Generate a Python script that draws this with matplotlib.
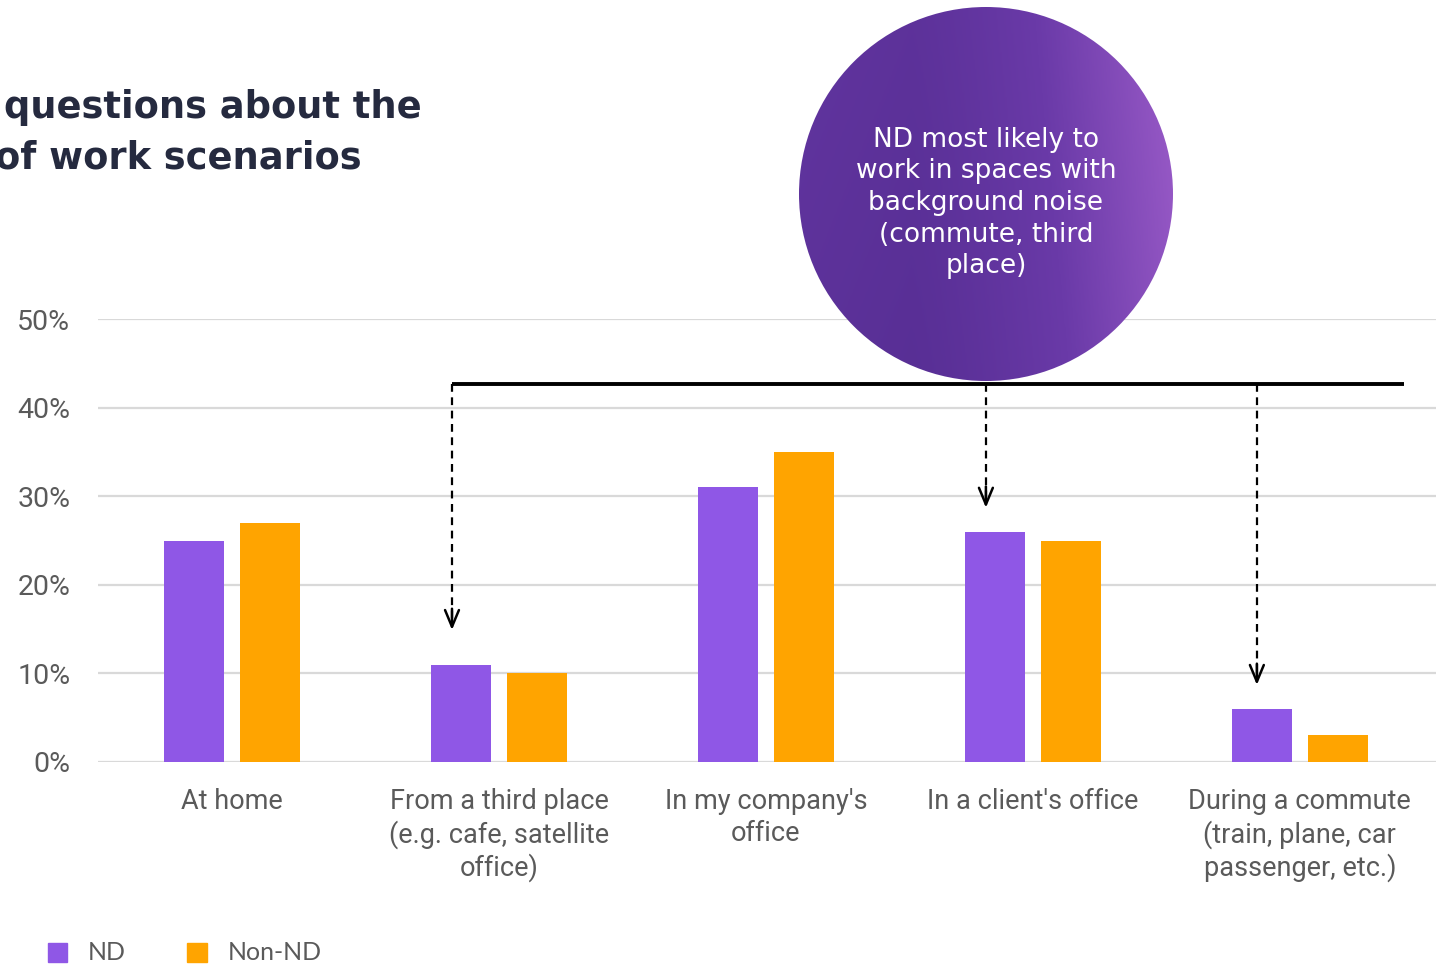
import numpy as np
import matplotlib
matplotlib.use("Agg")
import matplotlib.pyplot as plt
from matplotlib.patches import Circle, Rectangle
from matplotlib.colors import LinearSegmentedColormap

# survey results, share of respondents (%)
scenarios = ["At home",
             "From a third place\n(e.g. cafe, satellite\noffice)",
             "In my company's\noffice",
             "In a client's office",
             "During a commute\n(train, plane, car\npassenger, etc.)"]
nd = [25, 11, 31, 26, 6]
non_nd = [27, 10, 35, 25, 3]
y_ticks = [0, 10, 20, 30, 40, 50]

purple = "#8f57e6"
orange = "#ffa400"
grey_txt = "#5a5a5a"

W, H = 1436, 964
fig = plt.figure(figsize=(W / 100, H / 100), dpi=100)

ax = fig.add_axes([98 / W, 202 / H, 1338 / W, 443 / H])
x = np.arange(len(scenarios))
bw = 0.225
off = 0.142
ax.bar(x - off, nd, bw, color=purple, zorder=3)
ax.bar(x + off, non_nd, bw, color=orange, zorder=3)

ax.set_xlim(-0.502, 4.51)
ax.set_ylim(0, 50)
ax.set_yticks(y_ticks)
ax.set_yticklabels([f"{v}%" for v in y_ticks], fontsize=20.5, color=grey_txt,
                   family="Roboto")
ax.set_xticks(x)
ax.set_xticklabels(scenarios, fontsize=19.5, color=grey_txt, family="Roboto",
                   linespacing=1.2)
ax.tick_params(axis="y", length=0, pad=20)
ax.tick_params(axis="x", length=0, pad=19)
ax.yaxis.grid(True, color="#d9d9d9", lw=1.6, zorder=0)
for s in ax.spines.values():
    s.set_visible(False)

# bracket linking the third place, client's office and commute bars
top = 42.7
ax.plot([0.824, 4.39], [top, top], color="black", lw=2.8, clip_on=False,
        zorder=6, solid_capstyle="butt")
for ax_x, tip in [(0.824, 14.9), (2.824, 28.7), (3.839, 8.7)]:
    ax.plot([ax_x, ax_x], [top, tip + 1.0], color="black", lw=1.6,
            ls=(0, (3.5, 2.5)), clip_on=False, zorder=6)
    ax.annotate("", xy=(ax_x, tip), xytext=(ax_x, tip + 2.4),
                arrowprops=dict(arrowstyle="->,head_length=1.2,head_width=0.5",
                                color="black", lw=1.8, shrinkA=0, shrinkB=0),
                zorder=6)

# overlay in pixel units for the title, the bubble and the legend
ov = fig.add_axes([0, 0, 1, 1], zorder=5)
ov.set_xlim(0, W)
ov.set_ylim(H, 0)
ov.axis("off")
ov.patch.set_alpha(0)

ov.text(422, 107, "questions about the", ha="right", va="center",
        fontsize=26.5, fontweight="bold", color="#252a3f", family="DejaVu Sans")
ov.text(362, 158, "of work scenarios", ha="right", va="center",
        fontsize=26.5, fontweight="bold", color="#252a3f", family="DejaVu Sans")

cx, cy, r = 986, 194, 187
gx = np.linspace(0, 1, 300)
gy = np.linspace(0, 1, 300)
GX, GY = np.meshgrid(gx, gy)
shade = np.clip(0.2 + 0.8 * np.clip((GX - 0.3) / 0.7, 0, 1) ** 1.3
                + 0.3 * np.clip(0.3 - GX, 0, 1) - 0.12 * GY, 0, 1)
cmap = LinearSegmentedColormap.from_list("bub", ["#552d92", "#6a3aa8", "#9a5bc8"])
im = ov.imshow(shade, cmap=cmap, vmin=0, vmax=1,
               extent=[cx - r, cx + r, cy + r, cy - r], zorder=2,
               interpolation="bilinear")
circ = Circle((cx, cy), r, transform=ov.transData, facecolor="none",
              edgecolor="none")
ov.add_patch(circ)
im.set_clip_path(circ)
ov.text(cx, 203, "ND most likely to\nwork in spaces with\nbackground noise\n(commute, third\nplace)",
        ha="center", va="center", color="white", fontsize=19,
        family="DejaVu Sans", linespacing=1.28, zorder=3)

# legend
ov.add_patch(Rectangle((48, 943), 19, 19, color=purple))
ov.text(88, 952, "ND", va="center", fontsize=18, color=grey_txt, family="Lato")
ov.add_patch(Rectangle((187, 943), 20, 19, color=orange))
ov.text(228, 952, "Non-ND", va="center", fontsize=18, color=grey_txt,
        family="Lato")

fig.savefig("out.png", dpi=100)
